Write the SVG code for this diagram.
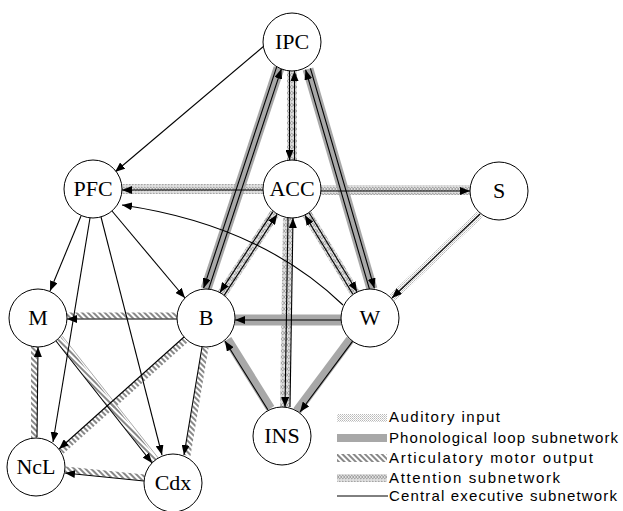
<svg xmlns="http://www.w3.org/2000/svg" width="623" height="511" viewBox="0 0 623 511">
<style>
.node circle{fill:#fff;stroke:#000;stroke-width:1}
.node text{font-family:"Liberation Serif","Times New Roman",serif;font-size:22px;text-anchor:middle;fill:#000}
.ln{fill:none;stroke:#000;stroke-width:1.1;marker-end:url(#ah)}
.aud{fill:none;stroke:url(#pAud);stroke-width:8}
.pho{fill:none;stroke:#a8a8a8;stroke-width:11}
.art{fill:none;stroke:url(#pArt);stroke-width:6}
.att{fill:none;stroke:url(#pAtt);stroke-width:10}
.lg{font-family:"Liberation Sans",Arial,sans-serif;font-size:15px;fill:#000}
</style>
<defs>
<marker id="ah" markerWidth="10" markerHeight="8" refX="10" refY="4" orient="auto" markerUnits="userSpaceOnUse"><path d="M0,0 L10,4 L0,8 z" fill="#000"/></marker>
<pattern id="pAud" width="2" height="2" patternUnits="userSpaceOnUse"><rect width="1" height="1" fill="#b8b8b8"/><rect x="1" y="1" width="1" height="1" fill="#d0d0d0"/></pattern>
<pattern id="pArt" width="4" height="4" patternUnits="userSpaceOnUse" patternTransform="rotate(-45)"><rect width="2" height="4" fill="#888"/></pattern>
<pattern id="pAtt" width="6" height="6" patternUnits="userSpaceOnUse"><rect width="6" height="6" fill="#dedede"/><path d="M0,1 L3,3 L0,5 M3,1 L6,3 L3,5" fill="none" stroke="#9a9a9a" stroke-width="1"/></pattern>
</defs>
<rect width="623" height="511" fill="#fff"/>
<g id="connectors">
 <path class="att" d="M263,189 L122,189"/>
 <path class="att" d="M321,190 L470,190"/>
 <path class="art" d="M34,438 L34,346"/>
 <path class="art" d="M178,315.5 L66,315.5"/>
 <path class="art" d="M58.75,338.84 L154.75,460.84"/>
 <path d="M62.3,336.1 L158.3,458.1" fill="none" stroke="#aaa" stroke-width="1"/>
 <path class="art" d="M186.3,339.6 L61.3,451.6"/>
 <path class="art" d="M205.5,347.6 L187.5,455.6"/>
 <path class="art" d="M144.35,477.5 L65.35,469.5"/>
 <path class="pho" d="M279,68 L206,289"/>
 <path class="pho" d="M308,69 L372,289"/>
 <path class="att" d="M292,71 L292,160"/>
 <path class="att" d="M275,213 L222,294"/>
 <path class="att" d="M307,214 L355,293"/>
 <path class="att" d="M288,218 L285,407"/>
 <path class="pho" d="M341,320 L235,320"/>
 <path class="pho" style="stroke-width:9" d="M350.3,339.4 L296.9,411"/>
 <path class="pho" style="stroke-width:9" d="M270.5,408.4 L227.5,339.4"/>
 <path class="aud" d="M480,214 L392,298"/>
 <path class="ln" d="M264,46 L115,172"/>
 <path class="ln" d="M263,190 L122,190"/>
 <path class="ln" d="M321,191 L470,191"/>
 <path class="ln" d="M343,305 Q260,225 122,205"/>
 <path class="ln" d="M81,216 L50,291"/>
 <path class="ln" d="M112,211 L185,298"/>
 <path class="ln" d="M90,218 L53,442"/>
 <path class="ln" d="M101,217 L162,455"/>
 <path class="ln" d="M37,437 L38,347"/>
 <path class="ln" d="M177,319 L67,319"/>
 <path class="ln" d="M56,341 L152,463"/>
 <path class="ln" d="M184,337 L59,449"/>
 <path class="ln" d="M202,347 L184,455"/>
 <path class="ln" d="M144,481 L65,473"/>
 <path class="ln" d="M208.4,289.8 L281.4,68.8"/>
 <path class="ln" d="M276.6,67.2 L203.6,288.2"/>
 <path class="ln" d="M369.6,289.7 L305.6,69.7"/>
 <path class="ln" d="M310.4,68.3 L374.4,288.3"/>
 <path class="ln" d="M289.5,71 L289.5,160"/>
 <path class="ln" d="M294.5,160 L294.5,71"/>
 <path class="ln" d="M224.1,295.4 L277.1,214.4"/>
 <path class="ln" d="M272.9,211.6 L219.9,292.6"/>
 <path class="ln" d="M352.9,294.3 L304.9,215.3"/>
 <path class="ln" d="M309.1,212.7 L357.1,291.7"/>
 <path class="ln" d="M288,218 L285,407"/>
 <path class="ln" d="M290,407 L293,218"/>
 <path class="ln" d="M341,320 L235,320"/>
 <path class="ln" d="M352.7,341.2 L300,412"/>
 <path class="ln" d="M268,410 L225,341"/>
 <path class="ln" d="M480,214 L392,298"/>
</g>
<g id="IPC" class="node"><circle cx="292" cy="42" r="29"/><text x="292" y="49">IPC</text></g>
<g id="PFC" class="node"><circle cx="93" cy="189" r="29"/><text x="93" y="196">PFC</text></g>
<g id="ACC" class="node"><circle cx="292" cy="189" r="29"/><text x="292" y="196">ACC</text></g>
<g id="S" class="node"><circle cx="499" cy="191" r="29"/><text x="499" y="198">S</text></g>
<g id="M" class="node"><circle cx="38" cy="318" r="29"/><text x="38" y="325">M</text></g>
<g id="B" class="node"><circle cx="206" cy="318" r="29"/><text x="206" y="325">B</text></g>
<g id="W" class="node"><circle cx="370" cy="318" r="29"/><text x="370" y="325">W</text></g>
<g id="INS" class="node"><circle cx="282" cy="436" r="29"/><text x="282" y="443">INS</text></g>
<g id="NcL" class="node"><circle cx="36" cy="467" r="29"/><text x="36" y="474">NcL</text></g>
<g id="Cdx" class="node"><circle cx="173" cy="483" r="29"/><text x="173" y="490">Cdx</text></g>
<g id="legend">
 <rect x="337" y="414" width="50" height="8" fill="url(#pAud)"/>
 <rect x="337" y="434" width="50" height="8" fill="#a8a8a8"/>
 <rect x="337" y="454" width="50" height="8" fill="url(#pArt)"/>
 <rect x="337" y="474" width="50" height="8" fill="url(#pAtt)"/>
 <line x1="337" y1="496" x2="388" y2="496" stroke="#000" stroke-width="1"/>
 <text class="lg" x="389" y="422" textLength="111" lengthAdjust="spacing">Auditory input</text>
 <text class="lg" x="389" y="443" textLength="229" lengthAdjust="spacing">Phonological loop subnetwork</text>
 <text class="lg" x="389" y="463" textLength="204" lengthAdjust="spacing">Articulatory motor output</text>
 <text class="lg" x="389" y="483" textLength="171" lengthAdjust="spacing">Attention subnetwork</text>
 <text class="lg" x="389" y="501" textLength="228" lengthAdjust="spacing">Central executive subnetwork</text>
</g>
</svg>
